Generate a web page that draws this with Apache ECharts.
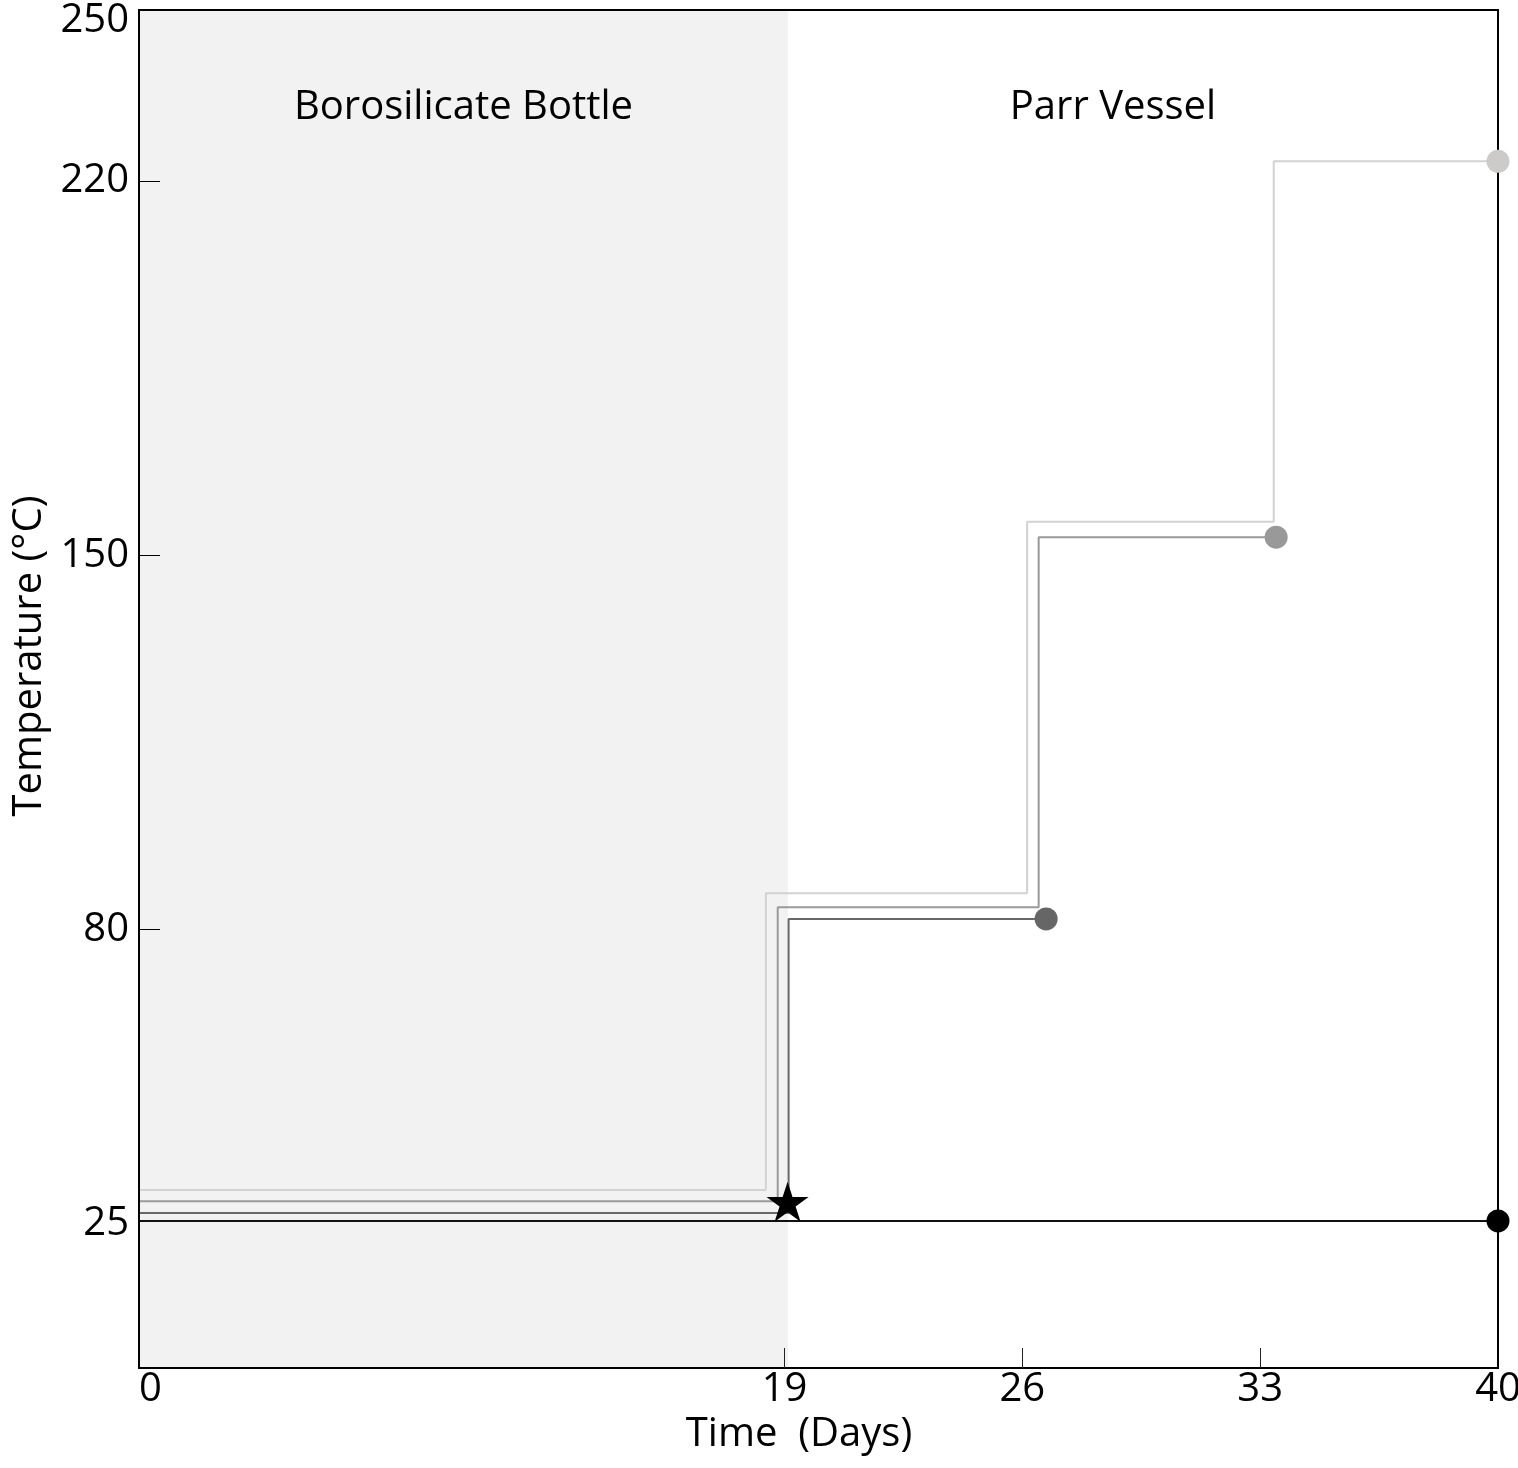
<!DOCTYPE html>
<html>
<head>
<meta charset="utf-8">
<script src="https://cdn.jsdelivr.net/npm/echarts@6/dist/echarts.min.js"></script>
<style>
html,body{margin:0;padding:0;background:#fff;}
#chart{width:1518px;height:1468px;}
</style>
</head>
<body>
<div id="chart"></div>
<script>
// ---- data ----
const xTickLabels = [0, 19, 26, 33, 40];
const xTickMarks = [19, 26, 33];
const yTickLabels = [25, 80, 150, 220, 250];
const yTickMarks = [80, 150, 220];

const phaseNames = ['Borosilicate Bottle', 'Parr Vessel'];
const phaseBounds = [0, 19.1, 40];

// light grey path (to 220 °C)
const lightX = [0, 18.45, 26.14, 33.4, 40];
const lightY = [31.3, 86.8, 156.3, 223.7, 223.7];
// mid grey path (to 150 °C)
const midX = [0, 18.8, 26.48, 33.47];
const midY = [29.2, 84.2, 153.4, 153.4];
// dark grey path (to 80 °C)
const darkX = [0, 19.12, 26.7];
const darkY = [27.0, 82.0, 82.0];
// black path (stays at 25 °C)
const blackX = [0, 40];
const blackY = [25.5, 25.5];
// star marker (transfer point)
const starX = [19.09];
const starY = [29.1];

const FONT = 'Open Sans';
const zip = (xs, ys) => xs.map((x, i) => [x, ys[i]]);
const last = (xs, ys) => [[xs[xs.length - 1], ys[ys.length - 1]]];

const starPath = 'path://M0,-100L22.45,-30.9L95.1,-30.9L36.33,11.8L58.8,80.9L0,38.2L-58.8,80.9L-36.33,11.8L-95.1,-30.9L-22.45,-30.9Z';

function stepLine(name, xs, ys, color, z) {
  return {
    name, type: 'line', step: 'end', data: zip(xs, ys),
    showSymbol: false, symbol: 'none', z,
    lineStyle: { color, width: 2, opacity: 1 }, silent: true, animation: false
  };
}
function endDot(name, xs, ys, color, z) {
  return {
    name: name + ' end', type: 'scatter', data: last(xs, ys),
    symbol: 'circle', symbolSize: 23, clip: false, z,
    itemStyle: { color, opacity: 1 }, silent: true, animation: false
  };
}

const chart = echarts.init(document.getElementById('chart'), null, { renderer: 'canvas' });
chart.setOption({
  backgroundColor: '#ffffff',
  animation: false,
  grid: {
    left: 139, right: 20, top: 10, bottom: 100,
    show: true, borderColor: '#000', borderWidth: 2, backgroundColor: 'transparent',
    containLabel: false, outerBoundsMode: 'none', z: 9
  },
  xAxis: {
    type: 'value', min: 0, max: 40, z: 10,
    splitLine: { show: false },
    axisLine: { show: true, onZero: false, lineStyle: { color: '#000', width: 2 } },
    axisTick: { show: true, inside: true, length: 20, customValues: xTickMarks, lineStyle: { color: '#222', width: 1 } },
    axisLabel: {
      show: true, customValues: xTickLabels, margin: 2,
      fontSize: 40, fontFamily: FONT, color: '#000',
      alignMinLabel: 'left', alignMaxLabel: 'center', showMinLabel: true, showMaxLabel: true
    },
    name: 'Time  (Days)', nameLocation: 'middle', nameGap: 44,
    nameTextStyle: { fontSize: 40, fontFamily: FONT, color: '#000', lineHeight: 40, padding: [0, 39, 0, 0] }
  },
  yAxis: {
    type: 'value', min: -2, max: 252, z: 10,
    splitLine: { show: false },
    axisLine: { show: true, onZero: false, lineStyle: { color: '#000', width: 2 } },
    axisTick: { show: true, inside: true, length: 21, customValues: yTickMarks, lineStyle: { color: '#000', width: 1 } },
    axisLabel: {
      show: true, customValues: yTickLabels, margin: 10,
      fontSize: 40, fontFamily: FONT, color: '#000'
    },
    name: 'Temperature (°C)', nameLocation: 'middle', nameGap: 89, nameRotate: 90,
    nameTextStyle: { fontSize: 40, fontFamily: FONT, color: '#000', lineHeight: 40, padding: [0, 0, 0, 66] }
  },
  series: [
    {
      name: 'phases', type: 'line', data: [], silent: true, z: 1,
      markArea: {
        silent: true,
        data: [
          [
            { name: phaseNames[0], xAxis: phaseBounds[0], itemStyle: { color: '#f2f2f2', opacity: 1 },
              label: { show: true, position: 'insideTop', distance: 78, fontSize: 40, fontFamily: FONT, color: '#000' } },
            { xAxis: phaseBounds[1] }
          ],
          [
            { name: phaseNames[1], xAxis: phaseBounds[1], itemStyle: { color: 'rgba(255,255,255,0)' },
              label: { show: true, position: 'insideTop', distance: 78, offset: [-30, 0], fontSize: 40, fontFamily: FONT, color: '#000' } },
            { xAxis: phaseBounds[2] }
          ]
        ]
      }
    },
    stepLine('220 °C path', lightX, lightY, '#d2d2d2', 3),
    stepLine('150 °C path', midX, midY, '#9a9a9a', 4),
    stepLine('80 °C path', darkX, darkY, '#686868', 5),
    stepLine('25 °C path', blackX, blackY, '#111', 6),
    endDot('220 °C path', lightX, lightY, '#cdcbc9', 11),
    endDot('150 °C path', midX, midY, '#999999', 11),
    endDot('80 °C path', darkX, darkY, '#666666', 11),
    endDot('25 °C path', blackX, blackY, '#000000', 11),
    {
      name: 'transfer', type: 'scatter', data: zip(starX, starY),
      symbol: starPath, symbolSize: [42, 40], z: 12, clip: false,
      itemStyle: { color: '#000', opacity: 1 }, silent: true
    }
  ]
});
</script>
</body>
</html>
